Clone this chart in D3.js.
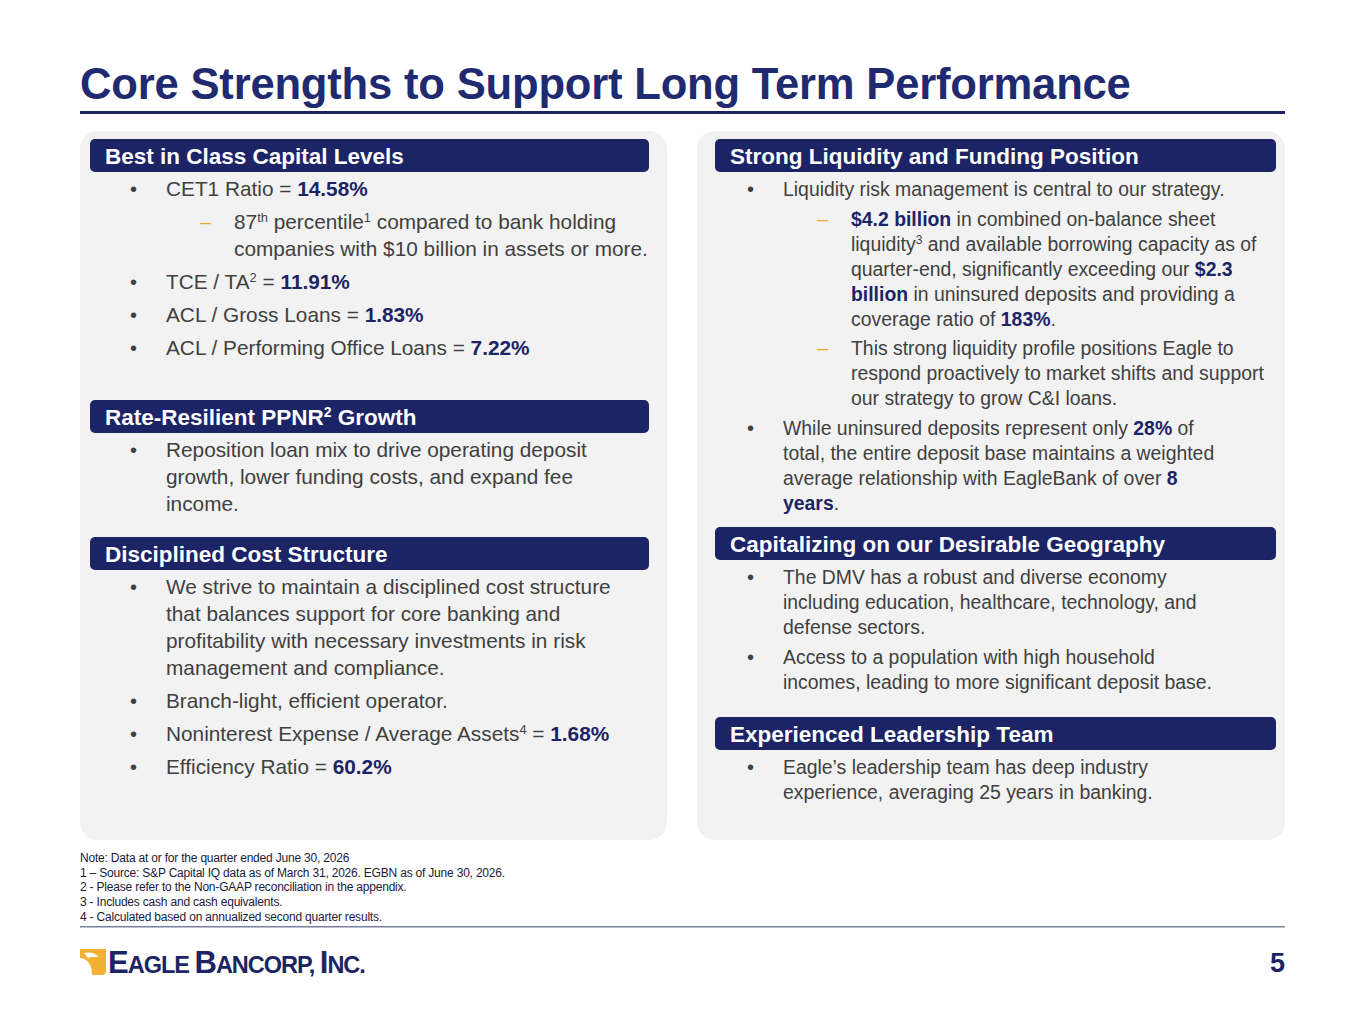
<!DOCTYPE html>
<html>
<head>
<meta charset="utf-8">
<script src="https://cdn.jsdelivr.net/npm/d3@7"></script>
<style>
  body { margin: 0; background: #fff; }
  svg text { font-family: "Liberation Sans", Arial, sans-serif; }
</style>
</head>
<body>
<svg id="slide" width="1365" height="1024"></svg>
<script>
// ---- content ----
// each line is a list of segments: [text, style] where style b = bold navy, sup = superscript
var titleText = "Core Strengths to Support Long Term Performance";

var leftSections = [
  { header: [["Best in Class Capital Levels"]], y: 156, items: [
    { kind: "bullet", lines: [[["CET1 Ratio = "], ["14.58%", "b"]]] },
    { kind: "dash", lines: [[["87"], ["th", "sup"], [" percentile"], ["1", "sup"], [" compared to bank holding"]],
                            [["companies with $10 billion in assets or more."]]] },
    { kind: "bullet", lines: [[["TCE / TA"], ["2", "sup"], [" = "], ["11.91%", "b"]]] },
    { kind: "bullet", lines: [[["ACL / Gross Loans = "], ["1.83%", "b"]]] },
    { kind: "bullet", lines: [[["ACL / Performing Office Loans = "], ["7.22%", "b"]]] }
  ]},
  { header: [["Rate-Resilient PPNR"], ["2", "sup"], [" Growth"]], y: 417, items: [
    { kind: "bullet", lines: [[["Reposition loan mix to drive operating deposit"]],
                              [["growth, lower funding costs, and expand fee"]],
                              [["income."]]] }
  ]},
  { header: [["Disciplined Cost Structure"]], y: 554, items: [
    { kind: "bullet", lines: [[["We strive to maintain a disciplined cost structure"]],
                              [["that balances support for core banking and"]],
                              [["profitability with necessary investments in risk"]],
                              [["management and compliance."]]] },
    { kind: "bullet", lines: [[["Branch-light, efficient operator."]]] },
    { kind: "bullet", lines: [[["Noninterest Expense / Average Assets"], ["4", "sup"], [" = "], ["1.68%", "b"]]] },
    { kind: "bullet", lines: [[["Efficiency Ratio = "], ["60.2%", "b"]]] }
  ]}
];

var rightSections = [
  { header: [["Strong Liquidity and Funding Position"]], y: 156, items: [
    { kind: "bullet", lines: [[["Liquidity risk management is central to our strategy."]]] },
    { kind: "dash", lines: [[["$4.2 billion", "b"], [" in combined on-balance sheet"]],
                            [["liquidity"], ["3", "sup"], [" and available borrowing capacity as of"]],
                            [["quarter-end, significantly exceeding our "], ["$2.3", "b"]],
                            [["billion", "b"], [" in uninsured deposits and providing a"]],
                            [["coverage ratio of "], ["183%", "b"], ["."]]] },
    { kind: "dash", lines: [[["This strong liquidity profile positions Eagle to"]],
                            [["respond proactively to market shifts and support"]],
                            [["our strategy to grow C&I loans."]]] },
    { kind: "bullet", lines: [[["While uninsured deposits represent only "], ["28%", "b"], [" of"]],
                              [["total, the entire deposit base maintains a weighted"]],
                              [["average relationship with EagleBank of over "], ["8", "b"]],
                              [["years", "b"], ["."]]] }
  ]},
  { header: [["Capitalizing on our Desirable Geography"]], y: 544, items: [
    { kind: "bullet", lines: [[["The DMV has a robust and diverse economy"]],
                              [["including education, healthcare, technology, and"]],
                              [["defense sectors."]]] },
    { kind: "bullet", lines: [[["Access to a population with high household"]],
                              [["incomes, leading to more significant deposit base."]]] }
  ]},
  { header: [["Experienced Leadership Team"]], y: 734, items: [
    { kind: "bullet", lines: [[["Eagle\u2019s leadership team has deep industry"]],
                              [["experience, averaging 25 years in banking."]]] }
  ]}
];

var footnotes = [
  "Note: Data at or for the quarter ended June 30, 2026",
  "1 \u2013 Source: S&P Capital IQ data as of March 31, 2026. EGBN as of June 30, 2026.",
  "2 - Please refer to the Non-GAAP reconciliation in the appendix.",
  "3 - Includes cash and cash equivalents.",
  "4 - Calculated based on annualized second quarter results."
];

// ---- drawing ----
var navy = "#1c2466", grey = "#404040";
var svg = d3.select("#slide");

svg.append("text").attr("x", 80).attr("y", 99)
  .attr("font-size", 43.6).attr("font-weight", "bold").attr("fill", "#1f2a70")
  .attr("letter-spacing", -0.2).text(titleText);
svg.append("rect").attr("x", 80).attr("y", 111).attr("width", 1205).attr("height", 3).attr("fill", navy);

function addSegments(sel, segs, size) {
  segs.forEach(function (s) {
    var t = sel.append("tspan").text(s[0]);
    if (s[1] === "b") t.attr("font-weight", "bold").attr("fill", navy);
    if (s[1] === "sup") t.attr("font-size", size * 0.62).attr("baseline-shift", "super");
  });
}

function drawPanel(x0, width, sections, fs, lineH, itemGap, hx, hw) {
  svg.append("rect").attr("x", x0).attr("y", 131).attr("width", width).attr("height", 709)
    .attr("rx", 18).attr("fill", "#f2f2f2");
  sections.forEach(function (sec) {
    svg.append("rect").attr("x", hx).attr("y", sec.y - 17).attr("width", hw).attr("height", 33)
      .attr("rx", 5).attr("fill", navy);
    var ht = svg.append("text").attr("x", hx + 15).attr("y", sec.y + 8)
      .attr("font-size", 22.5).attr("font-weight", "bold").attr("fill", "#fff");
    addSegments(ht, sec.header, 22.5);
    var cy = sec.y + 33;
    sec.items.forEach(function (it, i) {
      if (i > 0) cy += itemGap;
      var mx = it.kind === "bullet" ? x0 + 50 : x0 + 120;
      var tx = it.kind === "bullet" ? x0 + 86 : x0 + 154;
      svg.append("text").attr("x", mx).attr("y", cy + 7).attr("font-size", 20)
        .attr("fill", it.kind === "bullet" ? grey : "#f0a830")
        .text(it.kind === "bullet" ? "\u2022" : "\u2013");
      it.lines.forEach(function (ln, j) {
        var t = svg.append("text").attr("x", tx).attr("y", cy + 7)
          .attr("font-size", fs).attr("fill", grey);
        addSegments(t, ln, fs);
        if (j < it.lines.length - 1) cy += lineH;
      });
      cy += lineH;
    });
  });
}

drawPanel(80, 587, leftSections, 20.8, 27, 6, 90, 559);
drawPanel(697, 588, rightSections, 19.4, 25, 4.5, 715, 561);

svg.selectAll("text.fn").data(footnotes).enter().append("text")
  .attr("class", "fn").attr("x", 80).attr("y", function (d, i) { return 862 + i * 14.7; })
  .attr("font-size", 12).attr("letter-spacing", -0.2).attr("fill", "#1a1a3a").text(function (d) { return d; });
svg.append("rect").attr("x", 80).attr("y", 926).attr("width", 1205).attr("height", 1.5).attr("fill", "#7a80a0");

// logo
svg.append("path")
  .attr("d", "M80,949 h26 v22 q0,4 -4,4 h-10 q0,-11 -6,-15 q-3,-2 -6,-2 z")
  .attr("fill", "#f2b134");
svg.append("path").attr("d", "M84,953 q9,-2 15,4 q-6,-1 -11,1 z").attr("fill", "#fff");
var lg = svg.append("text").attr("x", 108).attr("y", 973).attr("fill", navy)
  .attr("font-weight", "bold").attr("letter-spacing", -1);
[["E", 31], ["AGLE ", 23.5], ["B", 31], ["ANCORP, ", 23.5], ["I", 31], ["NC.", 23.5]].forEach(function (p) {
  lg.append("tspan").attr("font-size", p[1]).text(p[0]);
});

svg.append("text").attr("x", 1285).attr("y", 972).attr("text-anchor", "end")
  .attr("font-size", 27).attr("font-weight", "bold").attr("fill", navy).text("5");
</script>
</body>
</html>
